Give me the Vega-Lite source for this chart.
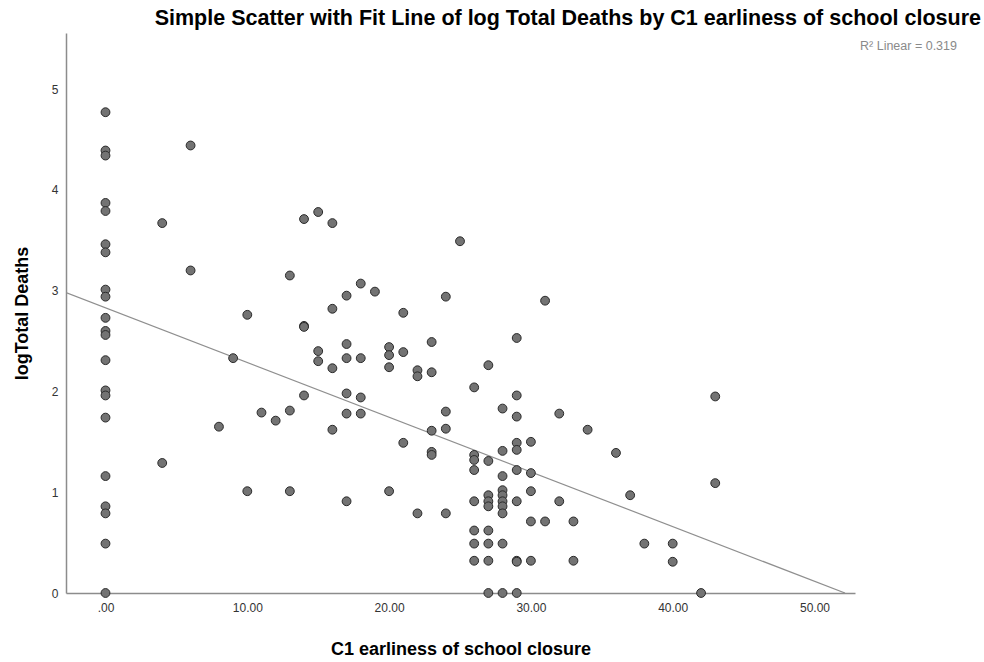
{
  "$schema": "https://vega.github.io/schema/vega-lite/v6.json",
  "width": 789,
  "height": 560,
  "autosize": "none",
  "padding": {"left": 66, "top": 33, "right": 129, "bottom": 69},
  "background": "white",
  "title": {
    "text": "Simple Scatter with Fit Line of log Total Deaths by C1 earliness of school closure",
    "anchor": "end",
    "frame": "group",
    "dx": 126,
    "offset": 4,
    "font": "Liberation Sans",
    "fontSize": 21.5,
    "fontWeight": "bold",
    "color": "#000000"
  },
  "config": {
    "view": {"stroke": null},
    "axis": {
      "grid": false,
      "ticks": false,
      "domainColor": "#8c8c8c",
      "domainWidth": 1.5,
      "labelFont": "Liberation Sans",
      "labelFontSize": 12,
      "labelColor": "#333333",
      "titleFont": "Liberation Sans",
      "titleFontSize": 18,
      "titleFontWeight": "bold",
      "titleColor": "#000000"
    }
  },
  "datasets": {
    "points": [
      {"closure": 0, "logdeaths": 4.77}, {"closure": 0, "logdeaths": 4.39}, {"closure": 0, "logdeaths": 4.34},
      {"closure": 0, "logdeaths": 3.87}, {"closure": 0, "logdeaths": 3.79}, {"closure": 0, "logdeaths": 3.46},
      {"closure": 0, "logdeaths": 3.38}, {"closure": 0, "logdeaths": 3.01}, {"closure": 0, "logdeaths": 2.94},
      {"closure": 0, "logdeaths": 2.73}, {"closure": 0, "logdeaths": 2.60}, {"closure": 0, "logdeaths": 2.56},
      {"closure": 0, "logdeaths": 2.31}, {"closure": 0, "logdeaths": 2.01}, {"closure": 0, "logdeaths": 1.96},
      {"closure": 0, "logdeaths": 1.74}, {"closure": 0, "logdeaths": 1.16}, {"closure": 0, "logdeaths": 0.86},
      {"closure": 0, "logdeaths": 0.79}, {"closure": 0, "logdeaths": 0.49}, {"closure": 0, "logdeaths": 0},
      {"closure": 4, "logdeaths": 3.67}, {"closure": 4, "logdeaths": 1.29},
      {"closure": 6, "logdeaths": 4.44}, {"closure": 6, "logdeaths": 3.20},
      {"closure": 8, "logdeaths": 1.65},
      {"closure": 9, "logdeaths": 2.33},
      {"closure": 10, "logdeaths": 2.76}, {"closure": 10, "logdeaths": 1.01},
      {"closure": 11, "logdeaths": 1.79},
      {"closure": 12, "logdeaths": 1.71},
      {"closure": 13, "logdeaths": 3.15}, {"closure": 13, "logdeaths": 1.81}, {"closure": 13, "logdeaths": 1.01},
      {"closure": 14, "logdeaths": 3.71}, {"closure": 14, "logdeaths": 2.65}, {"closure": 14, "logdeaths": 2.64}, {"closure": 14, "logdeaths": 1.96},
      {"closure": 15, "logdeaths": 3.78}, {"closure": 15, "logdeaths": 2.40}, {"closure": 15, "logdeaths": 2.30},
      {"closure": 16, "logdeaths": 3.67}, {"closure": 16, "logdeaths": 2.82}, {"closure": 16, "logdeaths": 2.23}, {"closure": 16, "logdeaths": 1.62},
      {"closure": 17, "logdeaths": 2.95}, {"closure": 17, "logdeaths": 2.47}, {"closure": 17, "logdeaths": 2.33},
      {"closure": 17, "logdeaths": 1.98}, {"closure": 17, "logdeaths": 1.78}, {"closure": 17, "logdeaths": 0.91},
      {"closure": 18, "logdeaths": 3.07}, {"closure": 18, "logdeaths": 2.33}, {"closure": 18, "logdeaths": 1.94}, {"closure": 18, "logdeaths": 1.78},
      {"closure": 19, "logdeaths": 2.99},
      {"closure": 20, "logdeaths": 2.44}, {"closure": 20, "logdeaths": 2.36}, {"closure": 20, "logdeaths": 2.24}, {"closure": 20, "logdeaths": 1.01},
      {"closure": 21, "logdeaths": 2.78}, {"closure": 21, "logdeaths": 2.39}, {"closure": 21, "logdeaths": 1.49},
      {"closure": 22, "logdeaths": 2.21}, {"closure": 22, "logdeaths": 2.15}, {"closure": 22, "logdeaths": 0.79},
      {"closure": 23, "logdeaths": 2.49}, {"closure": 23, "logdeaths": 2.19}, {"closure": 23, "logdeaths": 1.61},
      {"closure": 23, "logdeaths": 1.40}, {"closure": 23, "logdeaths": 1.37},
      {"closure": 24, "logdeaths": 2.94}, {"closure": 24, "logdeaths": 1.80}, {"closure": 24, "logdeaths": 1.63}, {"closure": 24, "logdeaths": 0.79},
      {"closure": 25, "logdeaths": 3.49},
      {"closure": 26, "logdeaths": 2.04}, {"closure": 26, "logdeaths": 1.37}, {"closure": 26, "logdeaths": 1.32},
      {"closure": 26, "logdeaths": 1.22}, {"closure": 26, "logdeaths": 0.91}, {"closure": 26, "logdeaths": 0.62},
      {"closure": 26, "logdeaths": 0.49}, {"closure": 26, "logdeaths": 0.32},
      {"closure": 27, "logdeaths": 2.26}, {"closure": 27, "logdeaths": 1.31}, {"closure": 27, "logdeaths": 0.97},
      {"closure": 27, "logdeaths": 0.91}, {"closure": 27, "logdeaths": 0.86}, {"closure": 27, "logdeaths": 0.62},
      {"closure": 27, "logdeaths": 0.49}, {"closure": 27, "logdeaths": 0.32}, {"closure": 27, "logdeaths": 0},
      {"closure": 28, "logdeaths": 1.83}, {"closure": 28, "logdeaths": 1.41}, {"closure": 28, "logdeaths": 1.16},
      {"closure": 28, "logdeaths": 1.02}, {"closure": 28, "logdeaths": 0.97}, {"closure": 28, "logdeaths": 0.91},
      {"closure": 28, "logdeaths": 0.86}, {"closure": 28, "logdeaths": 0.79}, {"closure": 28, "logdeaths": 0.49},
      {"closure": 28, "logdeaths": 0},
      {"closure": 29, "logdeaths": 2.53}, {"closure": 29, "logdeaths": 1.96}, {"closure": 29, "logdeaths": 1.75},
      {"closure": 29, "logdeaths": 1.49}, {"closure": 29, "logdeaths": 1.42}, {"closure": 29, "logdeaths": 1.22},
      {"closure": 29, "logdeaths": 0.91}, {"closure": 29, "logdeaths": 0.32}, {"closure": 29, "logdeaths": 0.31},
      {"closure": 29, "logdeaths": 0},
      {"closure": 30, "logdeaths": 1.50}, {"closure": 30, "logdeaths": 1.19}, {"closure": 30, "logdeaths": 1.01},
      {"closure": 30, "logdeaths": 0.71}, {"closure": 30, "logdeaths": 0.32},
      {"closure": 31, "logdeaths": 2.90}, {"closure": 31, "logdeaths": 0.71},
      {"closure": 32, "logdeaths": 1.78}, {"closure": 32, "logdeaths": 0.91},
      {"closure": 33, "logdeaths": 0.71}, {"closure": 33, "logdeaths": 0.32},
      {"closure": 34, "logdeaths": 1.62},
      {"closure": 36, "logdeaths": 1.39},
      {"closure": 37, "logdeaths": 0.97},
      {"closure": 38, "logdeaths": 0.49},
      {"closure": 40, "logdeaths": 0.49}, {"closure": 40, "logdeaths": 0.31},
      {"closure": 42, "logdeaths": 0},
      {"closure": 43, "logdeaths": 1.95}, {"closure": 43, "logdeaths": 1.09}
    ],
    "fit": [
      {"closure": -2.786, "logdeaths": 2.98},
      {"closure": 52.15, "logdeaths": 0}
    ],
    "note": [
      {"label": "R² Linear = 0.319"}
    ]
  },
  "layer": [
    {
      "data": {"name": "fit"},
      "mark": {"type": "line", "color": "#8f8f8f", "strokeWidth": 1.2, "clip": true},
      "encoding": {
        "x": {"field": "closure", "type": "quantitative", "scale": {"domain": [-2.786, 52.856], "nice": false, "zero": false}},
        "y": {"field": "logdeaths", "type": "quantitative", "scale": {"domain": [0, 5.556], "nice": false}}
      }
    },
    {
      "data": {"name": "points"},
      "mark": {"type": "point", "shape": "circle", "filled": true, "size": 78, "fill": "#737373", "stroke": "#2a2a2a", "strokeWidth": 1, "opacity": 1},
      "encoding": {
        "x": {
          "field": "closure", "type": "quantitative",
          "scale": {"domain": [-2.786, 52.856], "nice": false, "zero": false},
          "axis": {
            "title": "C1 earliness of school closure",
            "values": [0, 10, 20, 30, 40, 50],
            "labelExpr": "datum.value === 0 ? '.00' : format(datum.value, '.2f')",
            "labelPadding": 9,
            "titlePadding": 27
          }
        },
        "y": {
          "field": "logdeaths", "type": "quantitative",
          "scale": {"domain": [0, 5.556], "nice": false},
          "axis": {
            "title": "logTotal Deaths",
            "values": [0, 1, 2, 3, 4, 5],
            "format": "d",
            "labelPadding": 8,
            "titlePadding": 20
          }
        }
      }
    },
    {
      "data": {"name": "note"},
      "mark": {"type": "text", "align": "left", "baseline": "middle", "font": "Liberation Sans", "fontSize": 12.5, "color": "#8a8a8a"},
      "encoding": {
        "text": {"field": "label", "type": "nominal"},
        "x": {"datum": 53.21, "type": "quantitative"},
        "y": {"datum": 5.427, "type": "quantitative"}
      }
    }
  ]
}
